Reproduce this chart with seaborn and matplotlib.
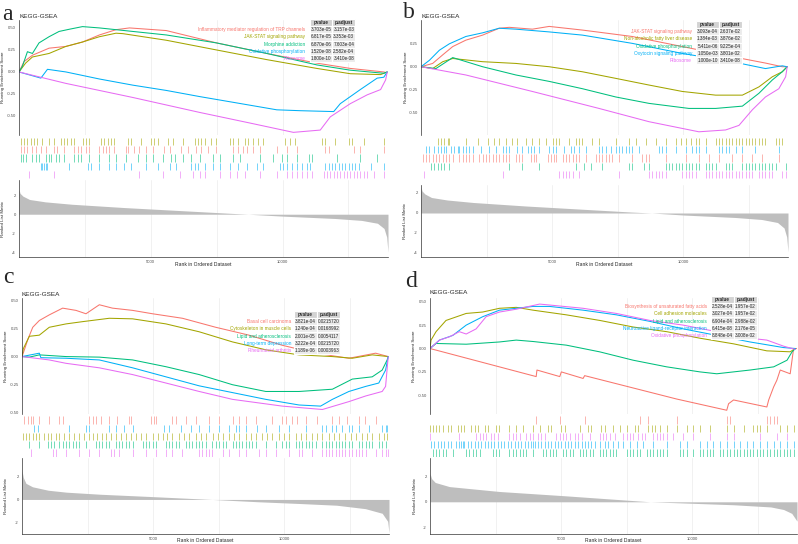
import numpy as np
import pandas as pd
import seaborn as sns
import matplotlib
matplotlib.use("Agg")
import matplotlib.pyplot as plt

# ggplot hue colours for 5 gene sets
hue5 = ["#F8766D", "#A3A500", "#00BF7D", "#00B0F6", "#E76BF3"]

# ---------------- panel a ----------------
a_names = ["Inflammatory mediator regulation of TRP channels", "JAK-STAT signaling pathway",
           "Morphine addiction", "Oxidative phosphorylation", "Ribosome"]
a_pvalue = ["3.703e-05", "6.817e-05", "6.870e-06", "1.520e-08", "1.800e-10"]
a_padjust = ["3.157e-03", "3.353e-03", "7.603e-04", "2.582e-04", "3.410e-08"]

a_trp_rank = [0, 190, 510, 1140, 1780, 2410, 3050, 3680, 4190, 5590, 7490, 9400, 11300, 12570, 13840, 13970]
a_trp_es = [0, 0.117, 0.19, 0.27, 0.29, 0.34, 0.42, 0.48, 0.50, 0.47, 0.33, 0.21, 0.10, 0.04, 0.0, -0.01]
a_jak_rank = [0, 250, 510, 1140, 1780, 2410, 3050, 3680, 3940, 5590, 7490, 9400, 11300, 12570, 13720, 13970]
a_jak_es = [0, 0.10, 0.17, 0.21, 0.29, 0.34, 0.40, 0.44, 0.435, 0.36, 0.25, 0.14, 0.04, -0.02, -0.03, 0.0]
a_mor_rank = [0, 130, 320, 510, 760, 1140, 1520, 1910, 2410, 3050, 4320, 5590, 7490, 9400, 11300, 12570, 13840, 13970]
a_mor_es = [0, 0.065, 0.23, 0.21, 0.33, 0.40, 0.46, 0.485, 0.515, 0.50, 0.46, 0.42, 0.33, 0.21, 0.08, 0.02, -0.015, 0.0]
a_oxp_rank = [0, 830, 1080, 1780, 3050, 4320, 5590, 6860, 8130, 9780, 10670, 11940, 12190, 12950, 13590, 13840, 13970]
a_oxp_es = [0, -0.07, 0.03, 0.0, -0.08, -0.15, -0.21, -0.28, -0.345, -0.43, -0.44, -0.45, -0.36, -0.20, -0.07, -0.06, 0.0]
a_rib_rank = [0, 1780, 4320, 6860, 8760, 10410, 11430, 11810, 12570, 13210, 13720, 13910, 13970]
a_rib_es = [0, -0.13, -0.29, -0.46, -0.58, -0.686, -0.66, -0.51, -0.36, -0.26, -0.20, -0.09, 0.0]

a_trp_hits = [60, 190, 320, 510, 640, 830, 1020, 1330, 1460, 1710, 2100, 2220, 2350, 2540, 2670, 3050, 3180, 3300,
              3430, 3620, 4060, 4130, 4380, 4570, 4830, 5080, 5520, 5720, 6160, 6410, 6730, 6920, 7180, 7490, 8130,
              8320, 8510, 8640, 8890, 9140, 9780, 10160, 10540, 11620, 11750, 12700, 12950, 13840]
a_jak_hits = [60, 190, 320, 450, 570, 700, 890, 1140, 1330, 1590, 1720, 1840, 1970, 2100, 2410, 2540, 2670, 3110,
              3240, 3370, 3490, 3620, 4130, 4260, 4640, 5020, 5140, 5270, 5650, 5840, 6220, 6670, 6800, 6920, 7050,
              7300, 7490, 8000, 8130, 8320, 8570, 8700, 8890, 9080, 9270, 10100, 10290, 10480, 11490, 11620, 12000,
              12510, 12640, 13080, 13840]
a_mor_hits = [60, 150, 250, 510, 640, 760, 1020, 1120, 1210, 1400, 1520, 1710, 2100, 2220, 2350, 2670, 3050, 3430,
              3680, 4060, 4510, 4830, 5080, 5460, 5780, 5910, 6220, 6540, 6860, 7370, 7620, 8130, 8380, 9140, 9650,
              9970, 10160, 10540, 10990, 11110, 12070, 12950, 13590]
a_oxp_hits = [830, 890, 950, 1020, 1080, 1910, 2600, 2730, 3050, 3430, 3680, 4000, 4250, 4830, 5270, 5720, 5970,
              6540, 6670, 6790, 7050, 7370, 7620, 8000, 8320, 8640, 9020, 9270, 9910, 10030, 10160, 10350, 10540,
              10730, 10920, 11050, 11620, 11750, 11880, 12000, 12130, 12260, 12380, 12510, 12640, 12760, 12890,
              13340, 13840]
a_rib_hits = [380, 1330, 4570, 5460, 6100, 6600, 6860, 7050, 7620, 8000, 8260, 8570, 9140, 9780, 10160, 10350,
              10540, 10730, 10920, 11110, 11560, 11680, 11810, 11940, 12070, 12190, 12320, 12450, 12570, 12700,
              12830, 12950, 13080, 13210, 13460, 13840]
a_hit_order = [1, 0, 2, 3, 4]

a_metric_rank = [0, 40, 150, 400, 1000, 2000, 4000, 6000, 8000, 8700, 10000, 12000, 13000, 13600, 13850, 13950, 14000]
a_metric = [2.6, 2.2, 1.9, 1.55, 1.3, 1.05, 0.7, 0.4, 0.1, 0.0, -0.2, -0.45, -0.65, -0.95, -1.5, -2.4, -4.0]

# ---------------- panel b ----------------
b_names = ["JAK-STAT signaling pathway", "Non-alcoholic fatty liver disease", "Oxidative phosphorylation",
           "Oxytocin signaling pathway", "Ribosome"]
b_pvalue = ["3.093e-04", "1.384e-03", "5.411e-06", "1.050e-03", "1.000e-10"]
b_padjust = ["2.637e-02", "3.876e-02", "9.225e-04", "3.801e-02", "3.410e-08"]

b_jak_rank = [0, 445, 830, 1210, 1710, 2350, 2980, 3370, 4250, 4890, 6160, 8060, 9970, 11870, 13140, 13780, 13970]
b_jak_es = [0, 0.036, 0.13, 0.22, 0.29, 0.345, 0.42, 0.43, 0.41, 0.44, 0.40, 0.33, 0.22, 0.11, 0.04, 0.0, 0.0]
b_naf_rank = [0, 445, 830, 1210, 2350, 3620, 4890, 6160, 7430, 8700, 9970, 11240, 12260, 12890, 13400, 13780, 13970]
b_naf_es = [0, -0.02, 0.055, 0.09, 0.055, 0.036, 0.0, -0.055, -0.127, -0.20, -0.27, -0.31, -0.31, -0.22, -0.11, -0.055, 0.0]
b_oxp_rank = [0, 570, 1210, 2350, 3620, 4890, 6160, 7430, 8700, 10220, 11240, 12260, 12890, 13400, 13780, 13970]
b_oxp_es = [0, -0.02, 0.10, 0.0, -0.09, -0.16, -0.24, -0.33, -0.40, -0.455, -0.455, -0.43, -0.29, -0.145, -0.055, 0.0]
b_oxy_rank = [0, 320, 700, 1080, 1710, 2350, 2980, 3620, 4890, 6160, 8060, 9970, 11870, 13140, 13780, 13970]
b_oxy_es = [0, 0.07, 0.18, 0.25, 0.33, 0.37, 0.42, 0.41, 0.38, 0.345, 0.255, 0.145, 0.055, -0.02, 0.01, 0.0]
b_rib_rank = [0, 1710, 4250, 6790, 8700, 10600, 11620, 12130, 12640, 13140, 13650, 13910, 13970]
b_rib_es = [0, -0.09, -0.27, -0.455, -0.60, -0.71, -0.69, -0.64, -0.47, -0.33, -0.24, -0.11, 0.0]

b_jak_hits = [60, 190, 320, 440, 570, 700, 830, 950, 1080, 1210, 1460, 1590, 1710, 1840, 1970, 2220, 2350, 2480,
              2600, 2730, 2860, 2980, 3110, 3240, 3370, 3620, 3750, 3870, 4190, 4320, 4380, 4830, 4950, 5080, 5140,
              5400, 5520, 5650, 5780, 5910, 6030, 6290, 6670, 6790, 6920, 7050, 7180, 7300, 7560, 8060, 8440, 8570,
              8700, 9330, 10100, 10610, 10990, 11370, 11870, 12260, 12640, 13020, 13650]
b_naf_hits = [635, 760, 890, 1020, 1080, 1710, 2160, 2540, 2790, 2980, 3240, 3490, 3680, 4000, 4250, 4510, 4760,
              5020, 5140, 5270, 5650, 5910, 6030, 6160, 6540, 6790, 7430, 7940, 8190, 8570, 8950, 9330, 9710, 9910,
              10100, 10290, 10480, 10610, 10860, 11240, 11370, 11490, 11620, 11750, 11870, 12000, 12130, 12250,
              12380, 12510, 12640, 12760, 12890, 13020, 13140, 13530, 13650, 13780]
b_oxp_hits = [380, 510, 640, 760, 890, 1080, 3370, 3870, 4510, 5910, 6220, 6480, 6920, 7940, 8060, 8510, 8700,
              9330, 9460, 9590, 9710, 9840, 9970, 10100, 10220, 10350, 10480, 10610, 10860, 10990, 11110, 11240,
              11620, 11750, 11870, 12260, 12380, 12510, 12640, 12760, 12890, 13020, 13140, 13270, 13400, 13530, 13910]
b_oxy_hits = [190, 320, 510, 640, 760, 890, 950, 1140, 1270, 1400, 1460, 1590, 1710, 1840, 1970, 2290, 2600, 2860,
              3110, 3240, 3370, 3680, 3870, 4070, 4190, 4320, 4510, 4890, 5020, 5140, 5460, 5720, 5840, 6030, 6290,
              6790, 6920, 7050, 7240, 7430, 7560, 7680, 7810, 7940, 8060, 8320, 9080, 9210, 9330, 9710, 10100,
              10350, 10480, 10610, 10860, 11370, 11490, 11620, 11750, 12000, 12260, 12760, 13650]
b_rib_hits = [130, 3110, 5270, 5400, 5520, 5650, 5780, 6030, 7560, 8700, 8830, 8950, 9080, 9210, 9330, 9970, 10100,
              10220, 10350, 10480, 10860, 10990, 11110, 11240, 11370, 11490, 11620, 11750, 11870, 12000, 12130,
              12250, 12380, 12510, 12640, 12890, 13020, 13140, 13270, 13400, 13780, 13910]
b_hit_order = [1, 3, 0, 2, 4]

b_metric_rank = [0, 40, 150, 400, 1000, 2000, 4000, 6000, 8000, 8800, 10000, 12000, 13000, 13600, 13850, 13950, 14000]
b_metric = [2.6, 2.2, 1.9, 1.55, 1.3, 1.05, 0.7, 0.4, 0.1, 0.0, -0.2, -0.45, -0.65, -0.95, -1.5, -2.4, -3.9]

# ---------------- panel c ----------------
c_names = ["Basal cell carcinoma", "Cytoskeleton in muscle cells", "Lipid and atherosclerosis",
           "Long-term depression", "Rheumatoid arthritis"]
c_pvalue = ["3.821e-04", "1.240e-04", "2.001e-05", "3.222e-04", "1.189e-06"]
c_padjust = ["0.0215720", "0.0168992", "0.0054117", "0.0215720", "0.0003963"]

c_bcc_rank = [0, 90, 220, 410, 660, 1040, 1550, 2060, 2440, 2950, 3450, 4220, 4980, 6120, 7390, 8660, 9930, 11200,
              12470, 13490, 13970]
c_bcc_es = [0, 0.06, 0.15, 0.26, 0.32, 0.37, 0.43, 0.41, 0.38, 0.46, 0.43, 0.41, 0.38, 0.34, 0.26, 0.19, 0.10, 0.03,
            -0.015, 0.03, 0.0]
c_cyt_rank = [0, 50, 280, 660, 1040, 1680, 2310, 3330, 4220, 5490, 6760, 8030, 9300, 10570, 11840, 12600, 13360, 13970]
c_cyt_es = [0, 0.07, 0.18, 0.19, 0.26, 0.29, 0.31, 0.34, 0.335, 0.29, 0.22, 0.13, 0.06, 0.015, 0.0, -0.015, 0.015, 0.0]
c_lip_rank = [0, 280, 660, 1680, 2950, 4220, 5490, 6760, 8030, 9300, 10570, 11840, 12600, 13360, 13740, 13930, 13970]
c_lip_es = [0, -0.005, 0.015, 0.0, -0.005, -0.03, -0.09, -0.16, -0.25, -0.31, -0.31, -0.29, -0.20, -0.18, -0.12,
            -0.03, 0.0]
c_ltd_rank = [0, 660, 720, 1680, 2950, 4220, 5490, 6760, 8030, 9300, 10570, 11390, 11840, 12470, 13110, 13610,
              13870, 13970]
c_ltd_es = [0, 0.03, -0.01, -0.015, -0.03, -0.10, -0.18, -0.26, -0.32, -0.38, -0.43, -0.44, -0.38, -0.31, -0.265,
            -0.235, -0.12, 0.0]
c_rha_rank = [0, 1040, 1680, 2950, 4220, 5490, 6760, 8030, 9930, 11460, 12470, 13110, 13740, 13870, 13970]
c_rha_es = [0, -0.03, -0.06, -0.10, -0.16, -0.235, -0.31, -0.38, -0.44, -0.47, -0.40, -0.35, -0.31, -0.265, 0.0]

c_bcc_hits = [90, 220, 340, 410, 660, 1040, 1420, 1550, 2570, 2690, 2820, 3010, 3330, 3640, 4090, 4150, 4910, 5040,
              5110, 5740, 5870, 6250, 6630, 7140, 7520, 8030, 8280, 8530, 8920, 9550, 9930, 10060, 10310, 10500,
              10820, 11260, 11830, 12090, 12410, 12850, 13100, 13490]
c_cyt_hits = [25, 150, 280, 410, 530, 660, 850, 980, 1100, 1300, 1420, 1610, 1800, 1990, 2180, 2370, 2570, 2690,
              2880, 3070, 3200, 3390, 3580, 3770, 3960, 4150, 4340, 4540, 4730, 4980, 5170, 5360, 5550, 5740, 5990,
              6190, 6380, 6630, 6820, 7010, 7270, 7460, 7650, 7900, 8090, 8280, 8540, 8730, 8920, 9170, 9360, 9550,
              9800, 9990, 10190, 10440, 10630, 10820, 11070, 11270, 11460, 11710, 11900, 12090, 12340, 12540, 12730,
              12980, 13170, 13360, 13620, 13810, 13930]
c_lip_hits = [280, 660, 980, 1100, 1230, 1420, 1550, 1680, 1800, 1930, 2060, 2180, 2440, 2820, 2950, 3070, 3200,
              3330, 3580, 3710, 3830, 3960, 4090, 4220, 4600, 4720, 4850, 4980, 5110, 5490, 5610, 5740, 5870, 5990,
              6250, 6380, 6500, 6630, 6760, 6880, 7010, 7260, 7390, 7520, 7650, 7770, 8030, 8150, 8280, 8410, 8530,
              8660, 8790, 8920, 9300, 9680, 9930, 10060, 10190, 10440, 10570, 10690, 10820, 10950, 11070, 11200,
              11460, 11580, 11710, 11840, 11960, 12090, 12220, 12340, 12470, 12600, 12850, 12980, 13110, 13230,
              13360, 13610, 13740, 13870, 13990]
c_ltd_hits = [470, 600, 1800, 2440, 2570, 3330, 3580, 3900, 4220, 5420, 5610, 6060, 6440, 6760, 7140, 7520, 7900,
              8150, 8280, 8530, 8980, 9300, 9800, 10190, 10820, 11460, 11580, 11840, 11960, 12220, 12470, 12600,
              12850, 13230, 13740, 13870, 13930]
c_rha_hits = [340, 1170, 1300, 1680, 2180, 2570, 2950, 3390, 3510, 3710, 4220, 4720, 5110, 5490, 5740, 6120, 6760,
              6880, 7010, 7140, 7260, 7650, 7900, 8280, 8530, 9040, 9300, 9680, 10190, 10570, 10690, 11070, 11460,
              11580, 11710, 11840, 11960, 12090, 12220, 12340, 12470, 12600, 12730, 12850, 12980, 13110, 13490,
              13740, 13870, 13970]
c_hit_order = [0, 3, 1, 2, 4]

c_metric_rank = [0, 50, 150, 400, 1000, 1700, 3000, 4850, 7260, 9000, 10570, 12000, 13100, 13740, 13950, 14000]
c_metric = [2.5, 1.9, 1.4, 1.1, 0.8, 0.63, 0.45, 0.26, 0.0, -0.2, -0.35, -0.5, -0.8, -1.2, -1.9, -2.9]

# ---------------- panel d ----------------
d_names = ["Biosynthesis of unsaturated fatty acids", "Cell adhesion molecules", "Lipid and atherosclerosis",
           "Neuroactive ligand-receptor interaction", "Oxidative phosphorylation"]
d_pvalue = ["2.528e-04", "3.027e-04", "6.904e-04", "6.415e-08", "8.848e-04"]
d_padjust = ["1.957e-02", "1.957e-02", "2.988e-02", "2.176e-05", "3.008e-02"]

d_bio_rank = [0, 4050, 4080, 4950, 5010, 5840, 5900, 9410, 11320, 11390, 11580, 12850, 12920, 13110, 13230, 13360,
              13740, 13810, 13870, 13990]
d_bio_es = [0, -0.30, -0.23, -0.30, -0.25, -0.32, -0.29, -0.54, -0.66, -0.59, -0.55, -0.625, -0.55, -0.41, -0.34,
            -0.23, -0.27, -0.125, 0.0, 0.0]
d_cam_rank = [0, 40, 230, 610, 1380, 2010, 2650, 3290, 3930, 5200, 6480, 7750, 9030, 10300, 11580, 12850, 13740, 13940]
d_cam_es = [0, 0.09, 0.18, 0.30, 0.375, 0.39, 0.43, 0.44, 0.41, 0.36, 0.30, 0.23, 0.18, 0.11, 0.05, -0.025, -0.035, 0.0]
d_lip_rank = [0, 230, 1380, 2650, 3290, 3930, 5200, 6480, 7750, 9030, 10300, 10940, 12210, 13110, 13620, 13810, 13940]
d_lip_es = [0, 0.054, 0.046, 0.07, 0.09, 0.075, 0.036, -0.036, -0.125, -0.196, -0.25, -0.27, -0.23, -0.196, -0.125,
            -0.036, 0.0]
d_nlr_rank = [0, 360, 870, 1380, 2010, 2650, 3290, 3930, 4560, 5840, 7110, 8390, 9660, 10940, 12210, 13490, 13940]
d_nlr_es = [0, 0.09, 0.14, 0.25, 0.34, 0.41, 0.43, 0.45, 0.45, 0.41, 0.36, 0.29, 0.21, 0.14, 0.07, 0.01, 0.0]
d_oxp_rank = [0, 360, 740, 1120, 1380, 1760, 2140, 2650, 3290, 4180, 4560, 5840, 7110, 8390, 9660, 10940, 12210,
              12850, 13490, 13940]
d_oxp_es = [0, 0.09, 0.125, 0.18, 0.155, 0.21, 0.34, 0.39, 0.42, 0.475, 0.465, 0.43, 0.375, 0.30, 0.25, 0.18, 0.11,
            0.09, 0.025, -0.01]

d_bio_hits = [4050, 4950, 5900, 8010, 8330, 9410, 11320, 11450, 12850, 12980, 13110, 13230]
d_cam_hits = [0, 100, 230, 360, 480, 680, 810, 1060, 1190, 1310, 1570, 1700, 1820, 2080, 2210, 2520, 2650, 3030,
              3290, 3540, 3930, 4180, 4500, 4630, 5010, 5140, 5710, 6030, 6160, 6540, 6670, 6990, 7240, 7500, 7820,
              7940, 8330, 8450, 8580, 8770, 9030, 9410, 9790, 10050, 10300, 10680, 11320, 11580, 11960, 12340, 12460,
              12590, 12850, 13360, 13620, 13870]
d_lip_hits = [100, 230, 360, 480, 610, 870, 1380, 1500, 1630, 1760, 1890, 2400, 2520, 2650, 3030, 3160, 3290, 3420,
              3540, 3670, 3930, 4310, 4440, 4560, 4690, 4820, 5070, 5200, 5330, 5460, 5710, 5840, 5970, 6090, 6220,
              6480, 6600, 6730, 6860, 6990, 7110, 7500, 7630, 7750, 7880, 8010, 8260, 8390, 8520, 8650, 8770, 8900,
              9030, 9540, 9660, 9790, 10050, 10300, 10430, 10560, 10680, 10810, 11070, 11190, 11320, 11450, 11580,
              11700, 11830, 11960, 12090, 12210, 12340, 12470, 12590, 12720, 12850, 12980, 13110, 13230, 13360,
              13490, 13620, 13740, 13870]
d_nlr_hits = [40, 170, 290, 420, 550, 680, 800, 990, 1120, 1190, 1250, 1310, 1440, 1570, 1700, 1820, 1950, 2080,
              2210, 2330, 2460, 2590, 2720, 2840, 2970, 3100, 3230, 3350, 3480, 3610, 3740, 3860, 3930, 3990, 4120,
              4250, 4370, 4500, 4630, 4760, 4880, 5010, 5140, 5270, 5390, 5520, 5650, 5780, 5900, 6030, 6160, 6290,
              6480, 6670, 6800, 6990, 7180, 7370, 7630, 7880, 8140, 8520, 9030, 9540, 9790, 10300, 10560, 10810,
              11070, 11320, 11580, 11830, 12090, 12340, 12590, 12850, 13110, 13360, 13620, 13870]
d_oxp_hits = [0, 1120, 1760, 1890, 2010, 2140, 2330, 2460, 2590, 3030, 3160, 3290, 3420, 3670, 3800, 3930, 4120,
              4250, 4370, 4820, 4950, 5080, 5200, 5330, 5520, 5650, 5780, 6090, 6480, 6600, 6730, 6860, 7050, 7370,
              7500, 7630, 7750, 7950, 8070, 8200, 8520, 8650, 8770, 8900, 9030, 9280, 9660, 10050, 10680, 11320,
              11580, 12600, 13230, 13620]
d_hit_order = [0, 1, 4, 3, 2]

d_metric_rank = [0, 60, 200, 740, 2650, 5200, 8400, 11580, 13000, 13490, 13800, 14000]
d_metric = [2.2, 1.8, 1.5, 1.18, 0.8, 0.46, 0.0, -0.23, -0.4, -0.6, -0.9, -1.5]

N_GENES = 14000

# ---------------- drawing ----------------
sns.set_theme(style="white")
plt.rcParams["font.family"] = ["Liberation Sans", "DejaVu Sans"]

W, H = 798, 544
fig = plt.figure(figsize=(W / 100, H / 100), dpi=100)
# overlay for texts and tables, in pixel units, kept on top
lay = fig.add_axes([0, 0, 1, 1])
lay.set_xlim(0, W)
lay.set_ylim(H, 0)
lay.axis("off")
lay.set_zorder(10)


def rect(x0, y0, x1, y1):
    return [x0 / W, 1 - y1 / H, (x1 - x0) / W, (y1 - y0) / H]


def style_ticks(ax):
    ax.set_facecolor("none")
    ax.tick_params(axis="both", labelsize=3.0, length=1.5, width=0.4, pad=0.8, colors="#4d4d4d",
                   labelcolor="#4d4d4d")
    for s in ["top", "right"]:
        ax.spines[s].set_visible(False)
    for s in ["left", "bottom"]:
        ax.spines[s].set_linewidth(0.5)
        ax.spines[s].set_color("#333333")


def draw_panel(letter, lpos, box, names, pvals, padjs, curves, hits, hit_order, m_rank, m_val,
               es_lim, es_ticks, m_lim, m_ticks, tab):
    x0, x1, es_top, es_bot, hit_top, hit_bot, rk_top, rk_bot = box

    # letter and title
    lay.text(lpos[0], lpos[1], letter, fontsize=17, family="Liberation Serif", va="baseline", ha="left")
    lay.text(x0, lpos[2], "KEGG-GSEA", fontsize=4.6, va="center", ha="left")

    # running enrichment score
    ax1 = fig.add_axes(rect(x0, es_top, x1, es_bot))
    df = pd.concat([pd.DataFrame({"rank": r, "es": e, "set": n}) for n, (r, e) in zip(names, curves)])
    sns.lineplot(data=df, x="rank", y="es", hue="set", hue_order=names, palette=hue5,
                 estimator=None, sort=False, linewidth=0.75, legend=False, ax=ax1)
    ax1.set_xlim(0, N_GENES)
    ax1.set_ylim(*es_lim)
    ax1.set_yticks(es_ticks)
    ax1.set_yticklabels([f"{t:.2f}" for t in es_ticks])
    ax1.set_xticks([2500, 5000, 7500, 10000, 12500])
    ax1.grid(axis="x", color="#ebebeb", linewidth=0.5)
    ax1.set_xlabel("")
    ax1.set_ylabel("")
    style_ticks(ax1)
    ax1.spines["bottom"].set_visible(False)
    ax1.tick_params(axis="x", bottom=False, labelbottom=False)
    lay.text(x0 - 15.5, (es_top + es_bot) / 2, "Running Enrichment Score", rotation=90, fontsize=3.2,
             va="center", ha="center")

    # table with p values
    tx0, tx1, ty0, ty1, lab_x = tab
    cells = [[p, q] for p, q in zip(pvals, padjs)]
    tb = lay.table(cellText=cells, colLabels=["pvalue", "p.adjust"], cellLoc="center",
                   bbox=[tx0 / W, 1 - ty1 / H, (tx1 - tx0) / W, (ty1 - ty0) / H])
    tb.auto_set_font_size(False)
    tb.set_fontsize(3.3)
    for (r, c), cell in tb.get_celld().items():
        cell.set_edgecolor("white")
        cell.set_linewidth(0.8)
        cell.PAD = 0.02
        if r == 0:
            cell.set_facecolor("#d3d3d3")
            cell.get_text().set_fontweight("bold")
        else:
            cell.set_facecolor("#ebebeb")
    rh = (ty1 - ty0) / 6
    for i, n in enumerate(names):
        lay.text(lab_x, ty0 + rh * (i + 1.5), n, color=hue5[i], fontsize=3.4, ha="right", va="center")

    # hit positions
    ax2 = fig.add_axes(rect(x0, hit_top, x1, hit_bot))
    for row, k in enumerate(hit_order):
        ax2.vlines(hits[k], 4 - row + 0.06, 5 - row - 0.06, colors=hue5[k], linewidth=0.7, alpha=0.55)
    ax2.set_xlim(0, N_GENES)
    ax2.set_ylim(0, 5)
    ax2.axis("off")

    # ranked list metric
    ax3 = fig.add_axes(rect(x0, rk_top, x1, rk_bot))
    ax3.fill_between(m_rank, m_val, 0, color="#bebebe", linewidth=0)
    ax3.set_xlim(0, N_GENES)
    ax3.set_ylim(*m_lim)
    ax3.set_yticks(m_ticks)
    ax3.set_yticklabels([str(t) for t in m_ticks])
    ax3.set_xticks([5000, 10000])
    ax3.set_xticks([2500, 7500, 12500], minor=True)
    ax3.grid(axis="x", which="both", color="#ebebeb", linewidth=0.5)
    style_ticks(ax3)
    ax3.tick_params(axis="x", which="minor", length=0)
    lay.text(x0 - 15.5, (rk_top + rk_bot) / 2, "Ranked List Metric", rotation=90, fontsize=3.2,
             va="center", ha="center")
    lay.text((x0 + x1) / 2, rk_bot + 7, "Rank in Ordered Dataset", fontsize=3.6, va="center", ha="center")


draw_panel("a", (2, 20, 16), (19, 388, 20, 135, 137, 179, 180, 257), a_names, a_pvalue, a_padjust,
           [(a_trp_rank, a_trp_es), (a_jak_rank, a_jak_es), (a_mor_rank, a_mor_es),
            (a_oxp_rank, a_oxp_es), (a_rib_rank, a_rib_es)],
           [a_trp_hits, a_jak_hits, a_mor_hits, a_oxp_hits, a_rib_hits], a_hit_order,
           a_metric_rank, a_metric, (-0.716, 0.59), [0.5, 0.25, 0.0, -0.25, -0.5],
           (-4.5, 3.6), [2, 0, -2, -4], (310, 355, 19, 62, 305))

draw_panel("b", (403, 18, 16), (421, 788, 20, 135, 137, 179, 185, 257), b_names, b_pvalue, b_padjust,
           [(b_jak_rank, b_jak_es), (b_naf_rank, b_naf_es), (b_oxp_rank, b_oxp_es),
            (b_oxy_rank, b_oxy_es), (b_rib_rank, b_rib_es)],
           [b_jak_hits, b_naf_hits, b_oxp_hits, b_oxy_hits, b_rib_hits], b_hit_order,
           b_metric_rank, b_metric, (-0.745, 0.51), [0.25, 0.0, -0.25, -0.5],
           (-4.4, 2.8), [2, 0, -2, -4], (696, 742, 21, 64, 692))

draw_panel("c", (3, 283, 295), (22, 389, 298, 414, 416, 457, 458, 534), c_names, c_pvalue, c_padjust,
           [(c_bcc_rank, c_bcc_es), (c_cyt_rank, c_cyt_es), (c_lip_rank, c_lip_es),
            (c_ltd_rank, c_ltd_es), (c_rha_rank, c_rha_es)],
           [c_bcc_hits, c_cyt_hits, c_lip_hits, c_ltd_hits, c_rha_hits], c_hit_order,
           c_metric_rank, c_metric, (-0.51, 0.52), [0.5, 0.25, 0.0, -0.25, -0.5],
           (-3.0, 3.6), [2, 0, -2], (294, 340, 311, 354, 291))

draw_panel("d", (405, 287, 293), (430, 797, 298, 414, 416, 457, 458, 534), d_names, d_pvalue, d_padjust,
           [(d_bio_rank, d_bio_es), (d_cam_rank, d_cam_es), (d_lip_rank, d_lip_es),
            (d_nlr_rank, d_nlr_es), (d_oxp_rank, d_oxp_es)],
           [d_bio_hits, d_cam_hits, d_lip_hits, d_nlr_hits, d_oxp_hits], d_hit_order,
           d_metric_rank, d_metric, (-0.70, 0.54), [0.5, 0.25, 0.0, -0.25, -0.5],
           (-2.5, 3.4), [2, 0, -2], (711, 757, 296, 339, 707))

fig.savefig("out.png", dpi=100)
